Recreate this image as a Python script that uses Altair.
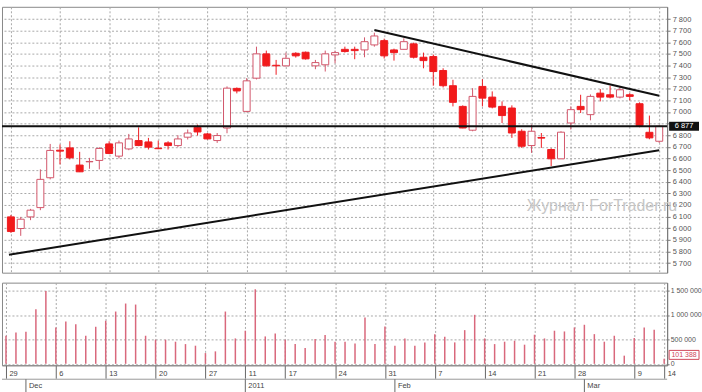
import altair as alt
import pandas as pd

# ---------------- data ----------------
dates = [
    "2010-11-29", "2010-11-30", "2010-12-01", "2010-12-02", "2010-12-03",
    "2010-12-06", "2010-12-07", "2010-12-08", "2010-12-09", "2010-12-10",
    "2010-12-13", "2010-12-14", "2010-12-15", "2010-12-16", "2010-12-17",
    "2010-12-20", "2010-12-21", "2010-12-22", "2010-12-23", "2010-12-24",
    "2010-12-27", "2010-12-28", "2010-12-29", "2010-12-30",
    "2011-01-11", "2011-01-12", "2011-01-13", "2011-01-14",
    "2011-01-17", "2011-01-18", "2011-01-19", "2011-01-20", "2011-01-21",
    "2011-01-24", "2011-01-25", "2011-01-26", "2011-01-27", "2011-01-28",
    "2011-01-31", "2011-02-01", "2011-02-02", "2011-02-03", "2011-02-04",
    "2011-02-07", "2011-02-08", "2011-02-09", "2011-02-10", "2011-02-11",
    "2011-02-14", "2011-02-15", "2011-02-16", "2011-02-17", "2011-02-18",
    "2011-02-21", "2011-02-22", "2011-02-24", "2011-02-25",
    "2011-02-28", "2011-03-01", "2011-03-02", "2011-03-03", "2011-03-04",
    "2011-03-07", "2011-03-09", "2011-03-10", "2011-03-11", "2011-03-14",
]
opens = [
    6097, 5997, 6097, 6177, 6434, 6671, 6691, 6543, 6571, 6583,
    6725, 6620, 6682, 6754, 6742, 6688, 6734, 6711, 6783, 6868,
    6811, 6754, 6862, 7203, 7005, 7291, 7500, 7402, 7397, 7505,
    7514, 7397, 7406, 7491, 7539, 7539, 7534, 7577, 7614, 7534,
    7539, 7586, 7471, 7477, 7357, 7226, 7048, 6843, 7220, 7128,
    7048, 7034, 6834, 6711, 6780, 6677, 6597, 6905, 7048, 6977,
    7162, 7148, 7128, 7148, 7071, 6825, 6748,
]
highs = [
    6114, 6097, 6166, 6506, 6725, 6720, 6748, 6657, 6605, 6697,
    6748, 6754, 6811, 6868, 6777, 6754, 6748, 6800, 6849, 6891,
    6819, 6819, 7220, 7211, 7291, 7562, 7528, 7448, 7511, 7514,
    7520, 7448, 7528, 7528, 7562, 7562, 7642, 7682, 7631, 7545,
    7634, 7597, 7511, 7494, 7376, 7277, 7057, 7205, 7282, 7177,
    7091, 7057, 6851, 6891, 6819, 6688, 6834, 7048, 7148, 7151,
    7197, 7226, 7220, 7162, 7083, 6969, 6885,
]
lows = [
    5960, 5934, 6069, 6155, 6420, 6549, 6592, 6483, 6511, 6506,
    6637, 6600, 6671, 6706, 6677, 6680, 6677, 6697, 6763, 6797,
    6763, 6734, 6817, 7160, 6997, 7280, 7391, 7320, 7391, 7468,
    7451, 7368, 7348, 7419, 7511, 7454, 7471, 7562, 7460, 7442,
    7537, 7460, 7376, 7226, 7211, 7048, 6860, 6834, 7048, 7031,
    6905, 6777, 6691, 6648, 6691, 6534, 6594, 6849, 6991, 6928,
    7091, 7117, 7117, 7100, 6868, 6765, 6734,
]
closes = [
    5971, 6077, 6155, 6420, 6669, 6663, 6605, 6485, 6574, 6686,
    6643, 6734, 6768, 6711, 6697, 6684, 6711, 6768, 6819, 6828,
    6768, 6797, 7205, 7181, 7268, 7500, 7397, 7397, 7462, 7483,
    7457, 7425, 7500, 7511, 7520, 7528, 7605, 7654, 7483, 7511,
    7605, 7471, 7442, 7348, 7226, 7083, 6862, 7134, 7119, 7042,
    6969, 6819, 6705, 6834, 6775, 6597, 6826, 7020, 7020, 7134,
    7128, 7128, 7191, 7134, 6883, 6777, 6877,
]
volumes = [
    575000, 643000, 657000, 1118000, 1494000, 745000, 867000, 812000, 575000, 759000,
    882000, 1071000, 1235000, 1214000, 575000, 494000, 494000, 453000, 404000, 371000,
    220000, 255000, 1071000, 520000, 678000, 1527000, 561000, 622000, 494000, 404000,
    322000, 506000, 588000, 453000, 453000, 418000, 949000, 404000, 765000, 371000,
    520000, 371000, 439000, 608000, 555000, 439000, 690000, 1004000, 520000, 404000,
    453000, 473000, 392000, 596000, 520000, 678000, 663000, 745000, 800000, 608000,
    453000, 575000, 167000, 527000, 745000, 700000, 101388,
]

tick_dates = ["2010-11-29", "2010-12-06", "2010-12-13", "2010-12-20", "2010-12-27",
              "2011-01-11", "2011-01-17", "2011-01-24", "2011-01-31", "2011-02-07",
              "2011-02-14", "2011-02-21", "2011-02-28", "2011-03-09", "2011-03-14"]
month_dates = ["2010-12-01", "2011-01-11", "2011-02-01", "2011-03-01"]
month_labels = ["Dec", "2011", "Feb", "Mar"]

support_pos = [-0.2, 66]
support_val = [5772, 6671]
resist_pos = [37, 66]
resist_val = [7705, 7140]
level_value = 6877
level_label = "6 877"
last_volume_label = "101 388"
watermark = "Журнал ForTrader.ru"

price_ticks = list(range(5700, 7801, 100))
hidden_price_tick = 6900          # covered by the level box in the reference
volume_ticks = [0, 500000, 1000000, 1500000]

# ---------------- frames ----------------
df = pd.DataFrame({
    "idx": range(len(dates)), "date": dates,
    "open": opens, "high": highs, "low": lows, "close": closes, "vol": volumes,
})
df["dir"] = ["up" if c >= o else "down" for o, c in zip(opens, closes)]

lines_df = pd.DataFrame({
    "idx": support_pos + resist_pos,
    "val": support_val + resist_val,
    "line": ["support"] * 2 + ["resist"] * 2,
})
level_df = pd.DataFrame({"level": [level_value], "label": [level_label]})
vol_last_df = pd.DataFrame({"vol": [volumes[-1]], "label": [last_volume_label]})
month_df = pd.DataFrame({"idx": [dates.index(d) for d in month_dates], "label": month_labels})
wm_df = pd.DataFrame({"t": [watermark]})

tick_idx = [dates.index(d) for d in tick_dates]
day_expr = "[" + ",".join("'%d'" % int(d[8:10]) for d in dates) + "][datum.value]"
num_expr = "replace(format(datum.value, ','), regexp(',', 'g'), ' ')"
price_expr = "datum.value == %d ? '' : %s" % (hidden_price_tick, num_expr)

W = 668
PH = 267
VH = 83
FONT = "Liberation Sans"
GRID = "#a8a8a8"

xscale = alt.Scale(domain=[-0.4, 66.3], nice=False, zero=False)
pscale = alt.Scale(domain=[5617, 7905], nice=False, zero=False)
vscale = alt.Scale(domain=[-30000, 1663000], nice=False, zero=False)

x_price_axis = alt.Axis(values=tick_idx, labels=False, ticks=False, domain=False,
                        grid=True, gridDash=[2, 2], gridColor=GRID, title=None)
y_price_axis = alt.Axis(orient="right", values=price_ticks, labelExpr=price_expr,
                        grid=True, gridDash=[2, 2], gridColor=GRID, title=None,
                        tickSize=3, labelPadding=2, labelFontSize=7.5, labelColor="#555",
                        labelFont=FONT, domainColor="#777", tickColor="#777")

X = lambda f: alt.X(f, scale=xscale, axis=x_price_axis)
YP = lambda f: alt.Y(f, scale=pscale, axis=y_price_axis)

dir_stroke = alt.Scale(domain=["up", "down"], range=["#d2566a", "#ee1c22"])
dir_fill = alt.Scale(domain=["up", "down"], range=["#ffffff", "#f21a1a"])

wicks = alt.Chart(df).mark_rule(strokeWidth=1).encode(
    x=X("idx:Q"), y=YP("low:Q"), y2="high:Q",
    color=alt.Color("dir:N", scale=dir_stroke, legend=None),
)
bodies = alt.Chart(df).mark_bar(size=7, strokeWidth=1).encode(
    x=X("idx:Q"), y=YP("open:Q"), y2="close:Q",
    fill=alt.Fill("dir:N", scale=dir_fill, legend=None),
    stroke=alt.Stroke("dir:N", scale=dir_stroke, legend=None),
)
trend = alt.Chart(lines_df).mark_line(color="#111111", strokeWidth=2).encode(
    x=X("idx:Q"), y=YP("val:Q"), detail="line:N",
)
level_rule = alt.Chart(level_df).mark_rule(color="#111111", strokeWidth=2).encode(
    y=YP("level:Q"),
)
BOX = "M-1,-0.3L1,-0.3L1,0.3L-1,0.3Z"
level_box = alt.Chart(level_df).mark_point(shape=BOX, size=900, filled=True,
                                           color="#111111", opacity=1).encode(
    x=alt.value(W + 17), y=YP("level:Q"),
)
level_text = alt.Chart(level_df).mark_text(color="white", fontSize=7.5, font=FONT).encode(
    x=alt.value(W + 17), y=YP("level:Q"), text="label:N",
)
wm = alt.Chart(wm_df).mark_text(align="left", baseline="middle", fontSize=16,
                                color="#c6c6c6", font=FONT).encode(
    x=alt.value(527), y=alt.value(200), text="t:N",
)

price = alt.layer(wicks, bodies, trend, level_rule, level_box, level_text, wm).properties(
    width=W, height=PH
)

# ---------------- volume ----------------
x_vol_axis = alt.Axis(values=tick_idx, labelExpr=day_expr, grid=True, gridDash=[2, 2],
                      gridColor=GRID, title=None, tickSize=13, tickColor="#666",
                      domainColor="#888", labelAlign="left", labelOffset=3,
                      labelBaseline="middle", labelPadding=-5, labelFontSize=7.5,
                      labelColor="#444", labelFont=FONT, labelFlush=False,
                      labelOverlap=False)
y_vol_axis = alt.Axis(orient="right", values=volume_ticks, labelExpr=num_expr,
                      grid=True, gridDash=[2, 2], gridColor=GRID, title=None,
                      tickSize=2, labelPadding=1, labelFontSize=7, labelColor="#555",
                      labelFont=FONT, domainColor="#777", tickColor="#777")
XV = lambda f: alt.X(f, scale=xscale, axis=x_vol_axis)
YV = lambda f: alt.Y(f, scale=vscale, axis=y_vol_axis)

vbars = alt.Chart(df).mark_rule(strokeWidth=1.5, color="#d9687c").encode(
    x=XV("idx:Q"), y=YV("vol:Q"), y2=alt.datum(0),
)
vbox = alt.Chart(vol_last_df).mark_point(shape=BOX, size=900, filled=True, fill="white",
                                         stroke="#d04a5c", strokeWidth=1, opacity=1,
                                         yOffset=-4).encode(
    x=alt.value(W + 17), y=YV("vol:Q"),
)
vtext = alt.Chart(vol_last_df).mark_text(color="#d04a5c", fontSize=7, font=FONT,
                                         yOffset=-4).encode(
    x=alt.value(W + 17), y=YV("vol:Q"), text="label:N",
)
month_ticks = alt.Chart(month_df).mark_rule(color="#666", strokeWidth=1).encode(
    x=XV("idx:Q"), y=alt.value(VH + 14), y2=alt.value(VH + 27),
)
month_text = alt.Chart(month_df).mark_text(align="left", baseline="middle", dx=3,
                                           fontSize=7.5, color="#444", font=FONT).encode(
    x=XV("idx:Q"), y=alt.value(VH + 21), text="label:N",
)
row_line = alt.Chart(month_df.head(1)).mark_rule(color="#999", strokeWidth=1).encode(
    x=alt.value(0), x2=alt.value(W), y=alt.value(VH + 14),
)

volume = alt.layer(vbars, vbox, vtext, row_line, month_ticks, month_text).properties(
    width=W, height=VH
)

chart = alt.vconcat(price, volume, spacing=8).properties(
    padding={"left": 0, "top": 5, "right": 0, "bottom": 0}
).configure_view(stroke="#888888", strokeWidth=1)

chart.save("out.html", embed_options={"renderer": "svg", "actions": False})
